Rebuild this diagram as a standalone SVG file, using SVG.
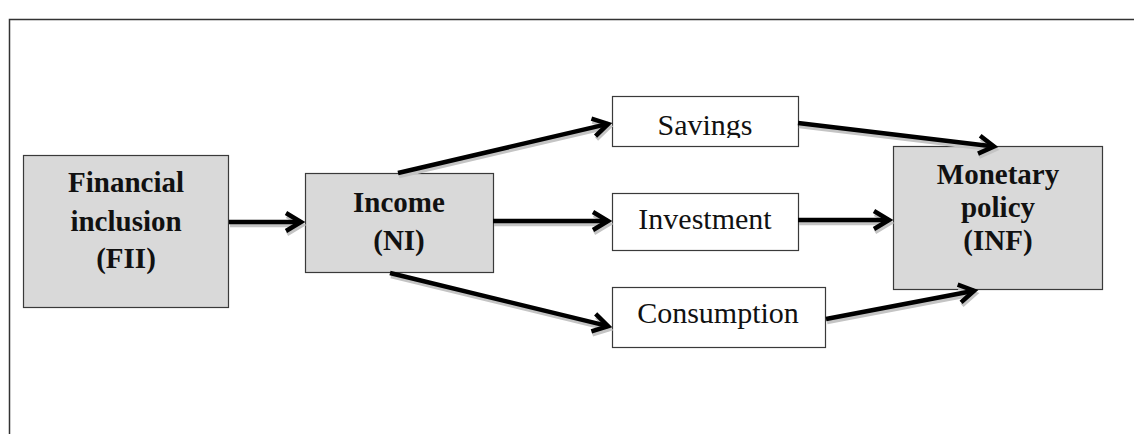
<svg xmlns="http://www.w3.org/2000/svg" width="1134" height="434" viewBox="0 0 1134 434">
  <style>
    .frame { fill: none; stroke: #333; stroke-width: 1.5; }
    .box { stroke: #3a3a3a; stroke-width: 1.2; }
    .shaded { fill: #d9d9d9; }
    .plain { fill: #ffffff; }
    .bold { font-family: "Liberation Serif", "Times New Roman", serif; font-weight: bold; font-size: 29px; fill: #111; text-anchor: middle; }
    .reg { font-family: "Liberation Serif", "Times New Roman", serif; font-size: 30px; fill: #111; text-anchor: middle; }
    .arrow { fill: none; stroke: #000; stroke-width: 4.5; marker-end: url(#chev); }
    .shadow { fill: none; stroke: #c4c4c4; stroke-width: 4.5; marker-end: url(#chevShadow); }
  </style>
  <defs>
    <marker id="chev" markerUnits="userSpaceOnUse" viewBox="-20 -13 28 26" markerWidth="28" markerHeight="26" refX="0" refY="0" orient="auto">
      <path d="M-15,-9 L0,0 L-15,9" fill="none" stroke="#000" stroke-width="4.5" stroke-linejoin="miter"/>
    </marker>
    <marker id="chevShadow" markerUnits="userSpaceOnUse" viewBox="-20 -13 28 26" markerWidth="28" markerHeight="26" refX="0" refY="0" orient="auto">
      <path d="M-15,-9 L0,0 L-15,9" fill="none" stroke="#c4c4c4" stroke-width="4.5" stroke-linejoin="miter"/>
    </marker>
    <clipPath id="savClip">
      <rect x="612" y="96" width="186" height="42"/>
    </clipPath>
  </defs>

  <g id="frame">
    <path class="frame" d="M9.5,434 L9.5,19.5 L1140,19.5"/>
  </g>

  <g id="node-fii">
    <rect class="box shaded" x="23.5" y="155.5" width="205" height="152"/>
    <text class="bold" x="126" y="192">Financial</text>
    <text class="bold" x="126" y="231">inclusion</text>
    <text class="bold" x="126" y="268">(FII)</text>
  </g>

  <g id="node-income">
    <rect class="box shaded" x="305.5" y="173.5" width="188" height="99"/>
    <text class="bold" x="399" y="212">Income</text>
    <text class="bold" x="399" y="250">(NI)</text>
  </g>

  <g id="node-savings">
    <rect class="box plain" x="612.5" y="96.5" width="186" height="50"/>
    <text class="reg" x="705" y="135" clip-path="url(#savClip)">Savings</text>
  </g>

  <g id="node-investment">
    <rect class="box plain" x="612.5" y="193.5" width="186" height="57"/>
    <text class="reg" x="705" y="229">Investment</text>
  </g>

  <g id="node-consumption">
    <rect class="box plain" x="612.5" y="287.5" width="213" height="60"/>
    <text class="reg" x="718" y="323">Consumption</text>
  </g>

  <g id="node-monetary">
    <rect class="box shaded" x="893.5" y="146.5" width="209" height="143"/>
    <text class="bold" x="998" y="184">Monetary</text>
    <text class="bold" x="998" y="217">policy</text>
    <text class="bold" x="998" y="250">(INF)</text>
  </g>

  <g id="connectors">
    <g transform="translate(1,3)">
      <path class="shadow" d="M229,222 L301,222"/>
      <path class="shadow" d="M398,173 L608.1,123.9"/>
      <path class="shadow" d="M493,221 L608,221"/>
      <path class="shadow" d="M390,273 L608.1,326.1"/>
      <path class="shadow" d="M798,123 L994,146.5"/>
      <path class="shadow" d="M798,220 L889,220"/>
      <path class="shadow" d="M826,319 L974.1,290.7"/>
    </g>
    <path class="arrow" d="M229,222 L301,222"/>
    <path class="arrow" d="M398,173 L608.1,123.9"/>
    <path class="arrow" d="M493,221 L608,221"/>
    <path class="arrow" d="M390,273 L608.1,326.1"/>
    <path class="arrow" d="M798,123 L994,146.5"/>
    <path class="arrow" d="M798,220 L889,220"/>
    <path class="arrow" d="M826,319 L974.1,290.7"/>
  </g>
</svg>
